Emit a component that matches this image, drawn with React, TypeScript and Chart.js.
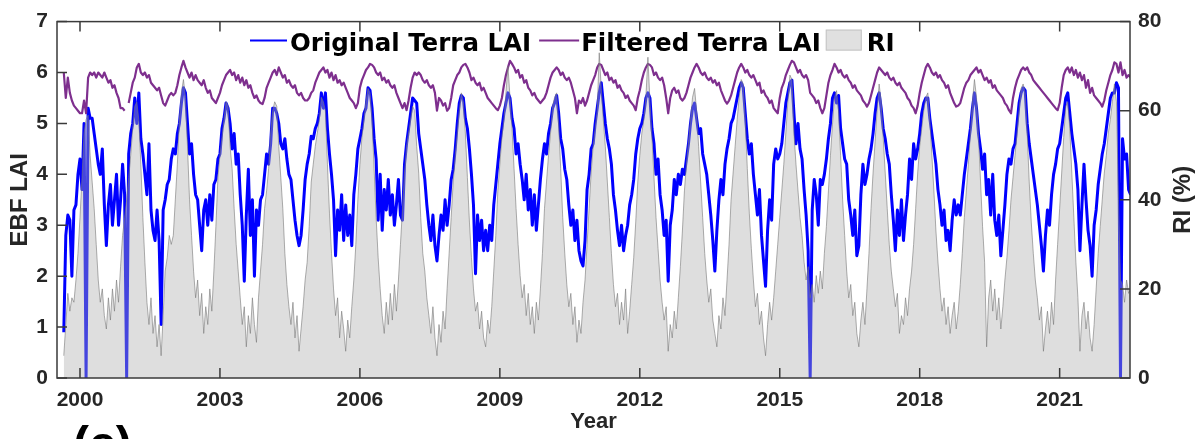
import React, { useEffect, useRef } from 'react';
import { Chart, registerables } from 'chart.js';

Chart.register(...registerables);

// ---------- time axis (16-day composites) ----------
const FIRST_COMPOSITE = 1999 + 15 / 23;
const COMPOSITE_STEP = 1 / 23;
const X_MIN = 1999.507;
const X_MAX = 2022.508;

// ---------- tick values ----------
const YEAR_TICKS = [2000, 2003, 2006, 2009, 2012, 2015, 2018, 2021];
const LAI_TICKS = [0, 1, 2, 3, 4, 5, 6, 7];
const RI_TICKS = [0, 20, 40, 60, 80];

// ---------- labels ----------
const SERIES_LABELS = ['Original Terra LAI', 'Filtered Terra LAI', 'RI'];
const X_TITLE = 'Year';
const Y_TITLE = 'EBF LAI';
const Y1_TITLE = 'RI (%)';
const PANEL_TAG = '(c)';

// ---------- series values ----------
const originalLAI = [
  /*1999*/ 0.9, 2.8, 3.2, 3.1, 2.0, 3.3, 3.4, 4.0,
  /*2000*/ 4.3, 3.7, 5.0, 0, 5.3, 5.1, 5.1, 4.8, 4.5, 4.2, 4.0, 4.5, 3.4, 2.6, 3.4, 3.8, 3.0, 3.5, 4.0, 3.0, 3.5, 4.2, 3.6,
  /*2001*/ 0, 4.4, 4.8, 5.0, 5.5, 5.0, 5.6, 4.7, 4.4, 4.0, 3.6, 4.6, 3.3, 2.9, 2.7, 3.3, 2.7, 1.05, 3.3, 3.5, 3.8, 3.9, 4.3,
  /*2002*/ 4.5, 4.4, 4.8, 5.0, 5.4, 5.7, 5.6, 5.0, 4.4, 4.6, 4.0, 3.6, 3.5, 3.0, 2.5, 3.3, 3.5, 3.0, 3.6, 3.1, 3.8, 3.9, 4.3,
  /*2003*/ 4.4, 4.9, 5.1, 5.4, 5.3, 5.0, 4.5, 4.8, 4.2, 4.4, 3.6, 3.0, 1.9, 3.2, 4.1, 2.8, 3.5, 2.0, 3.3, 3.0, 3.5, 3.6, 4.0,
  /*2004*/ 4.4, 4.2, 4.6, 5.3, 5.3, 5.2, 5.0, 4.6, 4.5, 4.7, 4.3, 4.0, 3.9, 3.5, 3.1, 2.8, 2.6, 2.8, 3.3, 3.9, 4.2, 4.4, 4.75,
  /*2005*/ 4.7, 4.9, 5.0, 5.2, 5.6, 5.3, 5.6, 4.9, 4.4, 4.0, 3.5, 2.4, 3.3, 2.9, 3.6, 2.7, 3.4, 2.8, 3.2, 2.6, 3.6, 4.0, 4.5,
  /*2006*/ 4.7, 4.9, 5.2, 5.3, 5.7, 5.65, 5.3, 4.7, 4.3, 3.1, 4.0, 2.9, 3.7, 3.3, 3.9, 3.2, 3.6, 3.0, 3.4, 3.9, 3.2, 3.1, 4.2,
  /*2007*/ 4.6, 4.9, 5.2, 5.5, 5.45, 5.4, 4.8, 4.5, 4.2, 3.9, 3.4, 3.0, 2.7, 3.2, 2.6, 2.3, 2.8, 3.2, 2.9, 3.5, 3.0, 3.4, 3.9,
  /*2008*/ 4.1, 4.5, 5.0, 5.4, 5.55, 5.5, 5.1, 4.9, 4.5, 4.0, 3.4, 2.05, 3.2, 2.7, 3.1, 2.5, 2.9, 2.5, 3.0, 2.7, 3.4, 3.8, 4.2,
  /*2009*/ 4.6, 4.9, 5.2, 5.4, 5.6, 5.5, 5.1, 4.9, 4.4, 4.6, 4.2, 3.9, 3.5, 4.0, 3.3, 3.7, 3.0, 3.6, 2.9, 3.4, 3.9, 4.3, 4.6,
  /*2010*/ 4.4, 4.8, 5.0, 5.3, 5.4, 5.55, 5.2, 4.7, 4.5, 4.1, 3.9, 3.4, 3.0, 3.3, 2.7, 3.1, 2.5, 2.3, 2.2, 2.7, 3.7, 4.0, 4.5,
  /*2011*/ 4.6, 5.0, 5.3, 5.6, 5.8, 5.4, 5.0, 4.7, 4.5, 4.2, 3.6, 3.3, 2.9, 2.6, 3.0, 2.5, 2.8, 3.0, 3.4, 3.6, 3.9, 4.4, 4.7,
  /*2012*/ 4.9, 5.0, 5.2, 5.5, 5.6, 5.5, 4.9, 4.6, 4.0, 4.3, 3.6, 3.3, 2.8, 3.1, 1.9, 3.0, 3.3, 3.9, 3.6, 4.0, 3.8, 4.1, 4.0,
  /*2013*/ 4.3, 4.6, 5.0, 5.3, 5.4, 5.1, 4.8, 4.9, 4.4, 4.2, 4.0, 3.6, 3.2, 2.7, 2.1, 2.9, 3.5, 3.9, 3.6, 4.2, 4.5, 4.7, 5.0,
  /*2014*/ 5.1, 5.3, 5.5, 5.7, 5.8, 5.7, 5.2, 4.7, 4.4, 4.6, 4.0, 3.6, 3.2, 3.7, 2.8, 2.3, 1.8, 2.9, 3.5, 3.1, 4.2, 4.5, 4.3,
  /*2015*/ 4.4, 4.6, 5.0, 5.4, 5.6, 5.8, 5.85, 5.2, 4.6, 5.0, 4.5, 4.3, 3.7, 3.2, 2.5, 0, 3.3, 3.9, 3.6, 3.0, 3.9, 3.8, 4.0,
  /*2016*/ 4.3, 4.7, 5.0, 5.5, 5.6, 5.4, 5.55, 4.9, 4.6, 4.3, 4.2, 3.5, 3.2, 2.8, 3.3, 2.4, 2.6, 3.6, 4.2, 3.8, 4.0, 4.3, 4.5,
  /*2017*/ 4.8, 5.2, 5.5, 5.6, 5.3, 4.9, 4.7, 4.4, 4.2, 3.6, 3.1, 2.5, 3.3, 2.8, 3.5, 2.7, 3.2, 3.6, 4.3, 3.9, 4.6, 4.3, 4.5,
  /*2018*/ 4.8, 5.2, 5.4, 5.5, 5.5, 5.1, 4.8, 4.5, 4.2, 3.7, 3.4, 3.0, 3.3, 2.7, 2.9, 2.5, 3.1, 3.5, 3.2, 3.4, 3.2, 3.6, 4.0,
  /*2019*/ 4.3, 4.6, 4.9, 5.3, 5.6, 5.3, 4.8, 4.5, 4.1, 4.4, 3.6, 3.9, 3.2, 4.0, 3.1, 2.8, 3.2, 2.4, 2.9, 3.4, 4.0, 4.3, 4.2,
  /*2020*/ 4.5, 4.6, 5.0, 5.4, 5.6, 5.7, 5.65, 5.0, 4.6, 4.3, 4.0, 3.7, 3.4, 3.0, 2.6, 2.1, 2.8, 3.3, 3.0, 3.6, 4.0, 4.2, 4.5,
  /*2021*/ 4.6, 4.9, 5.2, 5.5, 5.6, 5.2, 4.8, 4.5, 4.2, 3.7, 2.5, 3.4, 4.2, 3.5, 2.9, 2.6, 2.0, 3.0, 3.3, 3.8, 4.1, 4.4, 4.6,
  /*2022*/ 4.9, 5.2, 5.5, 5.6, 5.6, 5.8, 5.7, 0, 4.7, 4.3, 4.4, 3.7, 3.6,
];

const filteredLAI = [
  /*1999*/ 6.0, 5.5, 5.9, 5.6, 5.45, 5.35, 5.3, 5.25,
  /*2000*/ 5.2, 5.2, 5.45, 5.2, 5.9, 6.0, 5.95, 6.0, 5.9, 6.0, 5.95, 5.9, 6.0, 5.9, 5.8, 5.85, 5.7, 5.75, 5.6, 5.5, 5.3, 5.3, 5.25,
  /*2001*/ null, 5.4, 5.6, 5.8, 5.9, 6.1, 6.17, 6.0, 5.95, 6.0, 5.9, 5.95, 5.8, 5.75, 5.7, 5.65, 5.7, 5.55, 5.4, 5.35, 5.45, 5.55, 5.6,
  /*2002*/ 5.55, 5.6, 5.75, 5.95, 6.1, 6.23, 6.1, 6.0, 5.9, 6.0, 5.85, 5.95, 5.85, 5.8, 5.75, 5.85, 5.7, 5.6, 5.65, 5.5, 5.45, 5.4, 5.5,
  /*2003*/ 5.6, 5.75, 5.85, 5.95, 6.0, 6.05, 5.95, 6.0, 5.85, 5.95, 5.8, 5.9, 5.75, 5.85, 5.7, 5.75, 5.6, 5.5, 5.55, 5.45, 5.4, 5.38, 5.5,
  /*2004*/ 5.7, 5.8, 5.9, 6.0, 6.05, 5.95, 6.1, 6.0, 5.9, 5.95, 5.8, 5.85, 5.75, 5.7, 5.75, 5.6, 5.55, 5.6, 5.5, 5.45, 5.45, 5.5, 5.6,
  /*2005*/ 5.65, 5.8, 5.9, 6.0, 6.05, 6.1, 6.0, 6.05, 5.9, 6.0, 5.85, 5.95, 5.8, 5.85, 5.75, 5.8, 5.7, 5.6, 5.5, 5.45, 5.4, 5.3, 5.4,
  /*2006*/ 5.7, 5.85, 5.95, 6.05, 6.1, 6.17, 6.15, 6.1, 6.0, 5.95, 6.0, 5.85, 5.9, 5.8, 5.85, 5.75, 5.7, 5.75, 5.6, 5.5, 5.4, 5.3, 5.4,
  /*2007*/ 5.26, 5.45, 5.7, 5.9, 6.0, 5.95, 6.0, 5.95, 5.85, 5.8, 5.85, 5.75, 5.7, 5.75, 5.6, 5.25, 5.5, 5.45, 5.35, 5.4, 5.25, 5.3, 5.5,
  /*2008*/ 5.75, 5.85, 5.95, 6.0, 6.1, 6.15, 6.17, 6.1, 6.0, 5.85, 5.9, 5.8, 5.75, 5.8, 5.65, 5.7, 5.6, 5.5, 5.45, 5.4, 5.35, 5.3, 5.26,
  /*2009*/ 5.35, 5.5, 5.75, 5.95, 6.1, 6.23, 6.17, 6.1, 6.0, 6.05, 5.9, 5.95, 5.8, 5.85, 5.7, 5.65, 5.55, 5.6, 5.5, 5.45, 5.4, 5.45, 5.5,
  /*2010*/ 5.6, 5.75, 5.9, 6.0, 6.05, 6.1, 6.05, 5.95, 6.0, 5.9, 5.85, 5.9, 5.8, 5.65, 5.5, 5.2, 5.45, 5.4, 5.5, 5.35, 5.45, 5.6, 5.75,
  /*2011*/ 5.85, 5.95, 6.1, 6.17, 6.15, 6.05, 5.95, 6.0, 5.85, 5.9, 5.8, 5.85, 5.7, 5.75, 5.65, 5.6, 5.5, 5.55, 5.45, 5.4, 5.35, 5.26, 5.5,
  /*2012*/ 5.65, 5.85, 6.0, 6.1, 6.17, 6.15, 6.1, 5.95, 6.0, 5.9, 5.85, 5.9, 5.75, 5.5, 5.2, 5.5, 5.65, 5.7, 5.6, 5.65, 5.5, 5.45, 5.5,
  /*2013*/ 5.6, 5.75, 5.9, 6.0, 6.1, 6.17, 6.1, 6.0, 5.95, 6.0, 5.9, 5.85, 5.9, 5.8, 5.85, 5.75, 5.8, 5.65, 5.55, 5.45, 5.39, 5.45, 5.55,
  /*2014*/ 5.7, 5.85, 6.0, 6.1, 6.17, 6.1, 6.0, 6.05, 5.95, 5.9, 5.95, 5.85, 5.75, 5.8, 5.6, 5.65, 5.55, 5.5, 5.4, 5.45, 5.3, 5.25, 5.2,
  /*2015*/ 5.5, 5.7, 5.8, 5.95, 6.05, 6.15, 6.23, 6.2, 6.1, 6.0, 6.05, 5.95, 5.9, 5.95, 5.85, 5.6, 5.55, 5.5, 5.4, 5.45, 5.3, 5.2, 5.3,
  /*2016*/ 5.55, 5.8, 5.95, 6.05, 6.17, 6.1, 6.0, 6.05, 5.95, 5.9, 5.95, 5.85, 5.8, 5.7, 5.75, 5.65, 5.6, 5.55, 5.45, 5.4, 5.33, 5.4, 5.55,
  /*2017*/ 5.7, 5.85, 6.0, 6.1, 6.05, 6.0, 5.95, 6.0, 5.9, 5.85, 5.9, 5.8, 5.75, 5.8, 5.7, 5.65, 5.6, 5.5, 5.45, 5.35, 5.3, 5.2, 5.35,
  /*2018*/ 5.6, 5.8, 5.95, 6.1, 6.17, 6.1, 6.0, 5.95, 6.0, 5.9, 5.95, 5.85, 5.8, 5.7, 5.75, 5.6, 5.5, 5.4, 5.33, 5.35, 5.4, 5.55, 5.7,
  /*2019*/ 5.8, 5.85, 5.95, 6.0, 6.05, 6.1, 6.0, 6.05, 5.95, 5.85, 5.9, 5.8, 5.85, 5.7, 5.75, 5.65, 5.6, 5.55, 5.5, 5.4, 5.35, 5.26, 5.2,
  /*2020*/ 5.5, 5.7, 5.85, 5.95, 6.05, 6.1, 6.05, 6.1, 6.0, 5.95, 5.85, 5.8, 5.75, 5.7, 5.65, 5.6, 5.55, 5.5, 5.45, 5.4, 5.35, 5.3, 5.26,
  /*2021*/ 5.4, 5.7, 5.95, 6.05, 6.1, 6.0, 6.1, 5.95, 6.05, 5.9, 6.0, 5.85, 5.95, 5.7, 5.85, 5.6, 5.7, 5.55, 5.5, 5.45, 5.4, 5.33, 5.45,
  /*2022*/ 5.65, 5.8, 5.95, 6.05, 6.2, 6.17, 6.0, 6.2, 5.95, 6.05, 5.9, 5.95, 5.9,
];

const riPercent = [
  /*1999*/ 5, 12, 19, 15, 18, 17, 22, 28,
  /*2000*/ 36, 45, 55, 58, 59, 50, 44, 38, 30, 22, 17, 20, 14, 11, 18, 13, 20, 15, 22, 17, 25, 32, 36,
  /*2001*/ 40, 45, 50, 56, 61, 62, 58, 48, 36, 26, 17, 12, 18, 10, 14, 7, 12, 5, 14, 24, 27, 32, 30,
  /*2002*/ 32, 40, 48, 58, 64, 67, 63, 52, 40, 32, 24, 18, 22, 14, 19, 10, 16, 12, 20, 15, 24, 34, 45,
  /*2003*/ 50, 54, 58, 62, 61, 52, 47, 38, 30, 24, 18, 12, 16, 7, 14, 10, 18, 12, 8, 18, 24, 30, 38,
  /*2004*/ 42, 47, 55, 60, 62, 61, 52, 45, 38, 28, 21, 16, 12, 17, 9, 14, 6, 11, 16, 22, 26, 34, 44,
  /*2005*/ 48, 52, 55, 58, 63, 62, 60, 48, 37, 28, 20, 14, 18, 9, 15, 11, 6, 13, 9, 16, 22, 30, 40,
  /*2006*/ 48, 54, 58, 62, 65, 64, 58, 47, 36, 27, 20, 14, 10, 17, 12, 19, 13, 21, 15, 22, 30, 38, 46,
  /*2007*/ 52, 55, 58, 61, 60, 52, 46, 36, 28, 24, 18, 14, 10, 16, 9, 5, 12, 8, 15, 11, 20, 28, 36,
  /*2008*/ 44, 50, 55, 60, 64, 62, 55, 45, 35, 27, 20, 15, 17, 11, 15, 9, 7, 13, 10, 16, 24, 32, 42,
  /*2009*/ 48, 54, 58, 64, 70, 63, 56, 47, 38, 30, 23, 18, 21, 14, 19, 12, 16, 10, 17, 13, 20, 28, 38,
  /*2010*/ 44, 50, 55, 61, 63, 64, 57, 47, 36, 28, 21, 16, 19, 12, 16, 8, 13, 10, 17, 22, 30, 38, 46,
  /*2011*/ 52, 56, 60, 73, 65, 58, 52, 44, 36, 28, 21, 16, 19, 12, 17, 13, 20, 10, 15, 21, 27, 35, 44,
  /*2012*/ 50, 55, 58, 63, 72, 62, 54, 45, 36, 29, 22, 17, 13, 16, 6, 12, 9, 15, 11, 18, 25, 33, 42,
  /*2013*/ 48, 53, 58, 63, 65, 60, 52, 44, 36, 28, 22, 17, 20, 13, 10, 7, 14, 11, 18, 14, 22, 30, 40,
  /*2014*/ 46, 52, 58, 63, 67, 66, 58, 47, 37, 29, 22, 16, 19, 12, 15, 9, 5, 12, 17, 13, 18, 24, 30,
  /*2015*/ 36, 42, 48, 55, 62, 68, 67, 55, 48, 42, 36, 32, 26, 22, 25, 18, 21, 17, 23, 19, 24, 20, 28,
  /*2016*/ 34, 42, 50, 57, 63, 64.5, 60, 50, 40, 32, 24, 18, 21, 14, 17, 10, 7, 13, 17, 12, 20, 28, 38,
  /*2017*/ 46, 53, 60, 66, 62, 54, 46, 38, 30, 24, 20, 16, 19, 10, 14, 12, 18, 14, 20, 24, 30, 38, 46,
  /*2018*/ 52, 56, 60, 63, 64, 58, 50, 42, 33, 26, 20, 15, 18, 12, 16, 10, 14, 17, 11, 15, 21, 28, 36,
  /*2019*/ 42, 48, 55, 62, 67, 63, 54, 44, 34, 26, 7, 18, 22, 15, 20, 13, 18, 11, 16, 22, 27, 33, 40,
  /*2020*/ 45, 50, 55, 60, 65, 66, 64, 55, 44, 35, 28, 22, 18, 13, 16, 6, 11, 15, 10, 17, 12, 22, 30,
  /*2021*/ 38, 46, 54, 61, 62, 56, 46, 36, 26, 18, 6, 14, 17, 11, 15, 9, 6, 12, 20, 28, 34, 40, 46,
  /*2022*/ 50, 55, 58, 62, 66, 62, 40, 22, 21, 17, 22, 19, 20,
];

// ---------- styles ----------
const FONT = '"Liberation Sans", Arial, Helvetica, sans-serif';
const LEGEND_FONT = '"DejaVu Sans", "Liberation Sans", Arial, sans-serif';
const INK = '#262626';
const BLUE = '#0000FF';
const PURPLE = '#7E2F8E';
const RI_FILL = 'rgba(172,172,172,0.4)';
const RI_LINE = 'rgba(120,120,120,0.6)';

const toPoints = (vals: (number | null)[]) =>
  vals.map((v, i) => ({ x: FIRST_COMPOSITE + i * COMPOSITE_STEP, y: v }));

const decorPlugin = {
  id: 'decor',
  afterDatasetsDraw(chart: any) {
    const { ctx, chartArea: a, scales } = chart;
    ctx.save();
    // frame
    ctx.strokeStyle = '#3a3a3a';
    ctx.lineWidth = 1.5;
    ctx.strokeRect(a.left, a.top, a.right - a.left, a.bottom - a.top);
    // inward ticks
    const TL = 10;
    ctx.beginPath();
    YEAR_TICKS.forEach((v) => {
      const px = scales.x.getPixelForValue(v);
      ctx.moveTo(px, a.bottom);
      ctx.lineTo(px, a.bottom - TL);
      ctx.moveTo(px, a.top);
      ctx.lineTo(px, a.top + TL);
    });
    LAI_TICKS.forEach((v) => {
      const py = scales.y.getPixelForValue(v);
      ctx.moveTo(a.left, py);
      ctx.lineTo(a.left + TL, py);
    });
    RI_TICKS.forEach((v) => {
      const py = scales.y1.getPixelForValue(v);
      ctx.moveTo(a.right, py);
      ctx.lineTo(a.right - TL, py);
    });
    ctx.stroke();
    ctx.restore();
  },
  afterDraw(chart: any) {
    const { ctx, chartArea: a } = chart;
    ctx.save();
    // legend inside the axes, top
    ctx.font = `bold 24.5px ${LEGEND_FONT}`;
    ctx.fillStyle = '#000';
    ctx.textBaseline = 'alphabetic';
    ctx.textAlign = 'left';
    const baseY = a.top + 29;
    const midY = a.top + 19;
    let x = a.left + 193;
    const ds = chart.data.datasets;
    // Original
    ctx.strokeStyle = ds[0].borderColor;
    ctx.lineWidth = 2;
    ctx.beginPath();
    ctx.moveTo(x, midY);
    ctx.lineTo(x + 37, midY);
    ctx.stroke();
    x += 40;
    ctx.fillText(ds[0].label, x, baseY);
    x += ctx.measureText(ds[0].label).width + 8;
    // Filtered
    ctx.strokeStyle = ds[1].borderColor;
    ctx.beginPath();
    ctx.moveTo(x, midY);
    ctx.lineTo(x + 40, midY);
    ctx.stroke();
    x += 42;
    ctx.fillText(ds[1].label, x, baseY);
    x += ctx.measureText(ds[1].label).width + 5;
    // RI box
    ctx.fillStyle = '#e0e0e0';
    ctx.fillRect(x, a.top + 8, 36, 21);
    ctx.strokeStyle = '#c4c4c4';
    ctx.lineWidth = 1;
    ctx.strokeRect(x + 0.5, a.top + 8.5, 35, 20);
    x += 41;
    ctx.fillStyle = '#000';
    ctx.fillText(ds[2].label, x, baseY);

    // right axis title (reads bottom-to-top)
    ctx.save();
    ctx.translate(a.right + 53.5, (a.top + a.bottom) / 2);
    ctx.rotate(-Math.PI / 2);
    ctx.font = `bold 24px ${FONT}`;
    ctx.fillStyle = INK;
    ctx.textAlign = 'center';
    ctx.textBaseline = 'middle';
    ctx.fillText(Y1_TITLE, 0, 0);
    ctx.restore();

    // panel tag, cut by the bottom edge
    ctx.font = `bold 48px ${FONT}`;
    ctx.fillStyle = '#000';
    ctx.textAlign = 'left';
    ctx.textBaseline = 'alphabetic';
    ctx.fillText(PANEL_TAG, a.left + 16, a.bottom + 82);
    ctx.restore();
  },
};

export default function App() {
  const ref = useRef<HTMLCanvasElement>(null);

  useEffect(() => {
    const tickFont = { family: FONT, size: 21, weight: 'bold' as const };
    const chart = new Chart(ref.current as HTMLCanvasElement, {
      type: 'line',
      data: {
        datasets: [
          {
            label: SERIES_LABELS[0],
            data: toPoints(originalLAI),
            borderColor: BLUE,
            borderWidth: 3,
            borderJoinStyle: 'round',
            pointRadius: 0,
            tension: 0,
            fill: false,
            yAxisID: 'y',
            order: 3,
          },
          {
            label: SERIES_LABELS[1],
            data: toPoints(filteredLAI),
            borderColor: PURPLE,
            borderWidth: 2.2,
            borderJoinStyle: 'round',
            pointRadius: 0,
            tension: 0,
            fill: false,
            spanGaps: false,
            yAxisID: 'y',
            order: 2,
          },
          {
            label: SERIES_LABELS[2],
            data: toPoints(riPercent),
            borderColor: RI_LINE,
            backgroundColor: RI_FILL,
            borderWidth: 1,
            pointRadius: 0,
            tension: 0,
            fill: 'origin',
            yAxisID: 'y1',
            order: 1,
          },
        ],
      },
      options: {
        responsive: false,
        animation: false,
        devicePixelRatio: 1,
        events: [],
        layout: { padding: { top: 17, left: 0, right: 0, bottom: 0 } },
        plugins: {
          legend: { display: false },
          tooltip: { enabled: false },
          title: { display: false },
        },
        scales: {
          x: {
            type: 'linear',
            min: X_MIN,
            max: X_MAX,
            grid: { display: false, drawTicks: false },
            border: { display: false },
            afterBuildTicks: (s: any) => {
              s.ticks = YEAR_TICKS.map((value) => ({ value }));
            },
            afterFit: (s: any) => {
              s.height = 61;
            },
            ticks: {
              autoSkip: false,
              maxRotation: 0,
              padding: 10,
              color: INK,
              font: tickFont,
              callback: (v: any) => String(v),
            },
            title: {
              display: true,
              text: X_TITLE,
              color: INK,
              font: { family: FONT, size: 22, weight: 'bold' },
              padding: { top: 0, bottom: 4 },
            },
          },
          y: {
            type: 'linear',
            position: 'left',
            min: 0,
            max: 7,
            grid: { display: false, drawTicks: false },
            border: { display: false },
            afterBuildTicks: (s: any) => {
              s.ticks = LAI_TICKS.map((value) => ({ value }));
            },
            afterFit: (s: any) => {
              s.width = 57;
            },
            ticks: {
              padding: 9,
              color: INK,
              font: tickFont,
              callback: (v: any) => String(v),
            },
            title: {
              display: true,
              text: Y_TITLE,
              color: INK,
              font: { family: FONT, size: 24, weight: 'bold' },
              padding: { top: 6, bottom: 0 },
            },
          },
          y1: {
            type: 'linear',
            position: 'right',
            min: 0,
            max: 80,
            grid: { display: false, drawTicks: false },
            border: { display: false },
            afterBuildTicks: (s: any) => {
              s.ticks = RI_TICKS.map((value) => ({ value }));
            },
            afterFit: (s: any) => {
              s.width = 74;
            },
            ticks: {
              padding: 8,
              color: INK,
              font: tickFont,
              callback: (v: any) => String(v),
            },
          },
        },
      },
      plugins: [decorPlugin],
    } as any);
    return () => chart.destroy();
  }, []);

  return (
    <div
      style={{
        position: 'absolute',
        left: 0,
        top: 0,
        width: 1204,
        height: 439,
        background: '#fff',
        overflow: 'hidden',
      }}
    >
      <canvas ref={ref} width={1204} height={439} style={{ display: 'block', width: 1204, height: 439 }} />
    </div>
  );
}
